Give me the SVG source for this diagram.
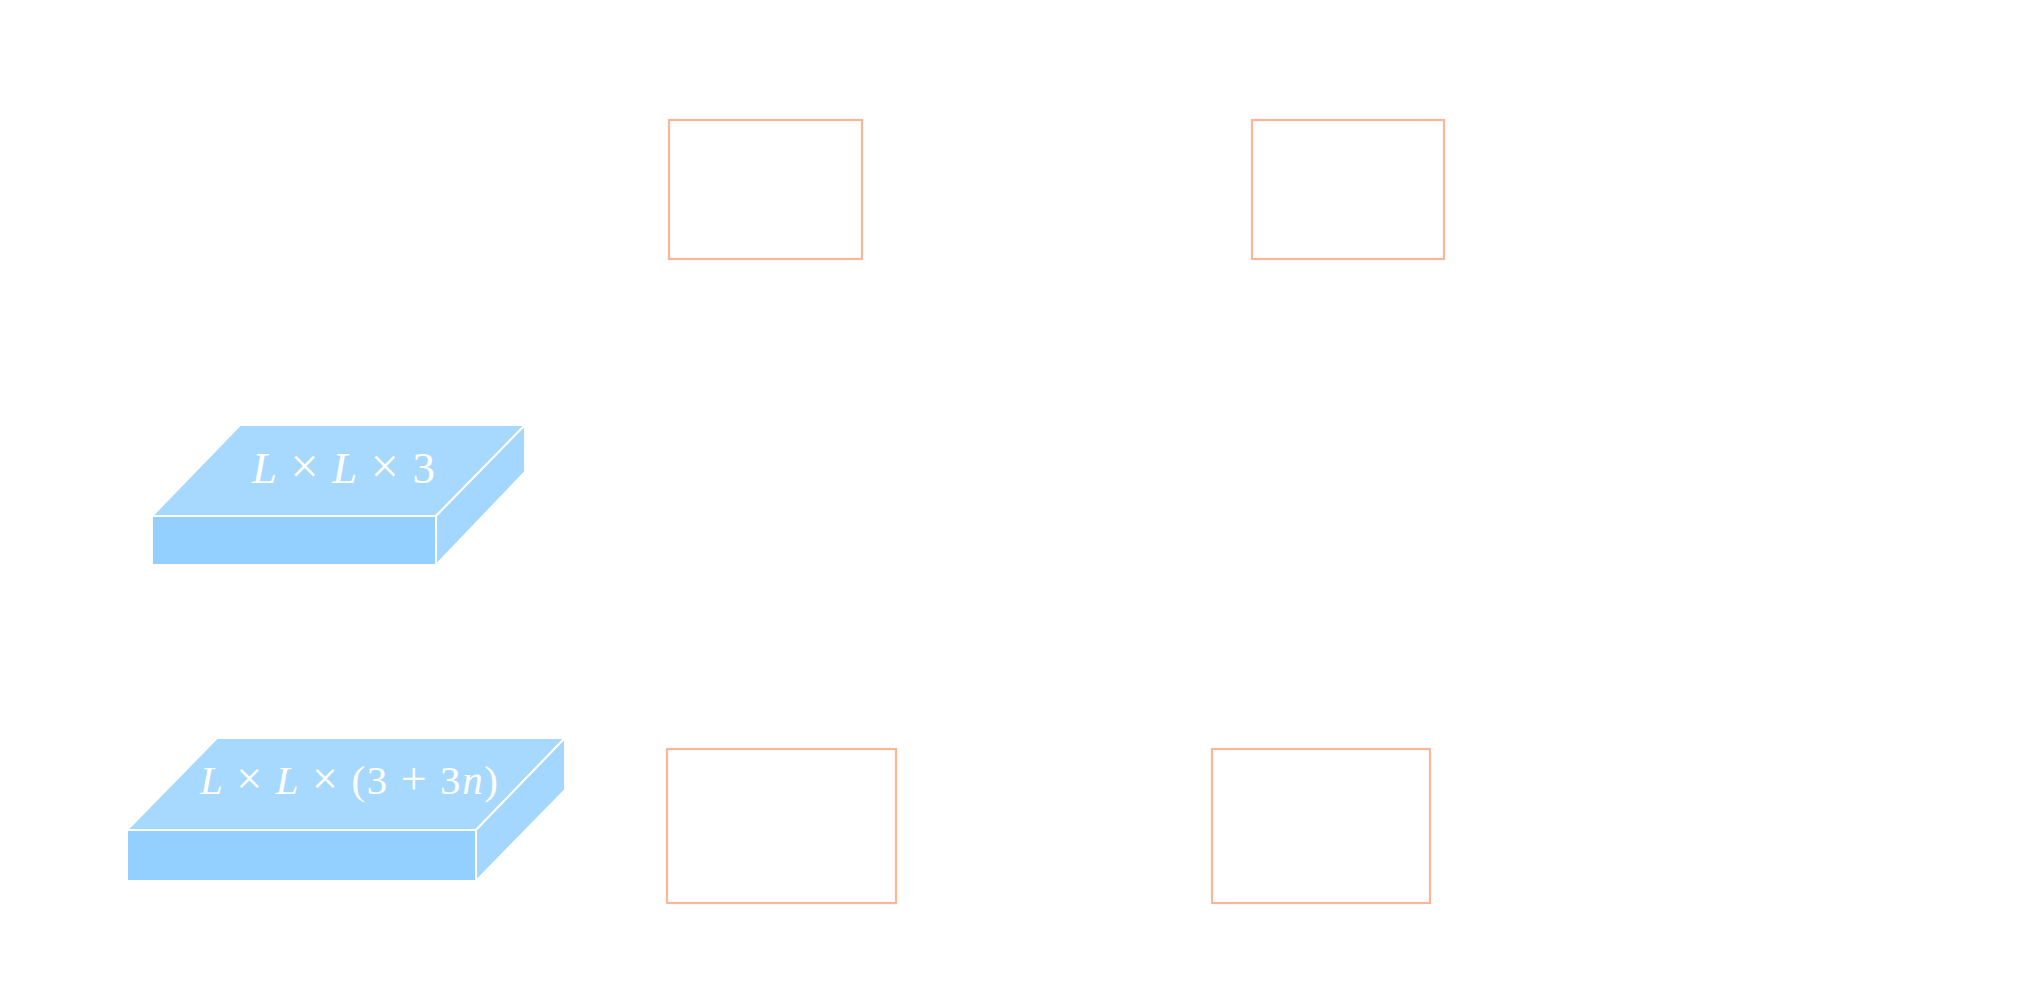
<svg xmlns="http://www.w3.org/2000/svg" width="2023" height="1008" viewBox="0 0 2023 1008">
<style>
.box{fill:#ffffff;stroke:#FDB597;stroke-width:2.2}
.top{fill:#A7D9FF;stroke:#ffffff;stroke-width:2;stroke-linejoin:round}
.front{fill:#93D0FF;stroke:#ffffff;stroke-width:2;stroke-linejoin:round}
.side{fill:#A3D7FF;stroke:#ffffff;stroke-width:2;stroke-linejoin:round}
.lbl{font-family:"Liberation Serif","DejaVu Serif",serif;fill:#ffffff}
.it{font-style:italic}
.op{font-size:1.12em}
</style>
<rect width="2023" height="1008" fill="#ffffff"/>
<g id="connectors"></g>
<g id="box1"><rect class="box" x="669" y="120" width="193" height="139"/></g>
<g id="box2"><rect class="box" x="1252" y="120" width="192" height="139"/></g>
<g id="box3"><rect class="box" x="667" y="749" width="229" height="154"/></g>
<g id="box4"><rect class="box" x="1212" y="749" width="218" height="154"/></g>
<g id="block1">
<polygon class="top" points="240,425 525,425 436,516 152,516"/>
<rect class="front" x="152" y="516" width="284" height="49"/>
<polygon class="side" points="436,516 525,425 525,472 436,565"/>
<text class="lbl" x="252" y="483" font-size="45" textLength="183"><tspan class="it">L</tspan> <tspan class="op">×</tspan> <tspan class="it">L</tspan> <tspan class="op">×</tspan> 3</text>
</g>
<g id="block2">
<polygon class="top" points="217,738 565,738 476,830 127,830"/>
<rect class="front" x="127" y="830" width="349" height="51"/>
<polygon class="side" points="476,830 565,738 565,790 476,881"/>
<text class="lbl" x="200" y="794" font-size="41" textLength="298"><tspan class="it">L</tspan> <tspan class="op">×</tspan> <tspan class="it">L</tspan> <tspan class="op">×</tspan> (3 <tspan class="op">+</tspan> 3<tspan class="it">n</tspan>)</text>
</g>
</svg>
